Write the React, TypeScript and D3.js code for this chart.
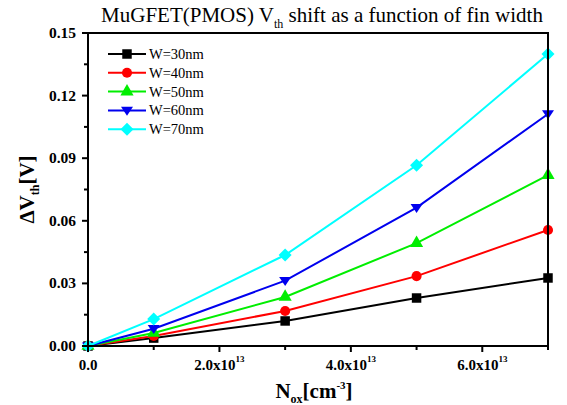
import React from 'react'
import * as d3 from 'd3'

// N_ox values (cm^-3)
const nox = [0, 1e13, 3e13, 5e13, 7e13]

const w30 = [0, 0.0038, 0.012, 0.023, 0.0326]
const w40 = [0, 0.0048, 0.0168, 0.0335, 0.0556]
const w50 = [0, 0.0062, 0.0235, 0.0493, 0.0819]
const w60 = [0, 0.0083, 0.0313, 0.0663, 0.1112]
const w70 = [0, 0.0129, 0.0436, 0.0866, 0.1399]

const seriesNames = ['W=30nm', 'W=40nm', 'W=50nm', 'W=60nm', 'W=70nm']
const seriesColors = ['#000000', '#ff0000', '#00ee00', '#0000ee', '#00ffff']
const seriesShapes = [d3.symbolSquare, d3.symbolCircle, d3.symbolTriangle, 'down', 'diamond']

const xTicks = [0, 2e13, 4e13, 6e13]
const yTicks = [0, 0.03, 0.06, 0.09, 0.12, 0.15]

const W = 567
const H = 405
const margin = { top: 33, right: 19, bottom: 59, left: 88 }

function Marker({ shape, color, x, y }: { shape: any; color: string; x: number; y: number }) {
  if (shape === 'down') {
    const s = 6
    return <path d={`M${x - s},${y - s * 0.6}L${x + s},${y - s * 0.6}L${x},${y + s * 0.9}Z`} fill={color} />
  }
  if (shape === 'diamond') {
    const s = 6.5
    return <path d={`M${x},${y - s}L${x + s},${y}L${x},${y + s}L${x - s},${y}Z`} fill={color} />
  }
  const size = shape === d3.symbolSquare ? 90 : shape === d3.symbolCircle ? 80 : 75
  return <path d={d3.symbol(shape, size)() || ''} transform={`translate(${x},${y})`} fill={color} />
}

export default function App() {
  const data = [w30, w40, w50, w60, w70]
  const x = d3.scaleLinear().domain([0, 7e13]).range([margin.left, W - margin.right])
  const y = d3.scaleLinear().domain([0, 0.15]).range([H - margin.bottom, margin.top])
  const line = d3.line<number>().x((_, i) => x(nox[i])).y(d => y(d))

  const x0 = x.range()[0], x1 = x.range()[1]
  const y0 = y.range()[0], y1 = y.range()[1]
  const xMinor = d3.range(1e13, 7.01e13, 2e13)
  const yMinor = d3.range(0.015, 0.15, 0.03)

  return (
    <svg width={W} height={H} style={{ position: 'absolute', left: 0, top: 0, background: '#fff', fontFamily: "'Liberation Serif', 'DejaVu Serif', serif" }}>
      <rect width={W} height={H} fill="#fff" />
      <text x={322} y={22} textAnchor="middle" fontSize={21}>
        MuGFET(PMOS) V<tspan fontSize={12} dy={6}>th</tspan>
        <tspan dy={-6}> shift as a function of fin width</tspan>
      </text>

      {data.map((s, i) => (
        <g key={i}>
          <path d={line(s) || ''} fill="none" stroke={seriesColors[i]} strokeWidth={2} />
          {s.map((v, j) => (
            <Marker key={j} shape={seriesShapes[i]} color={seriesColors[i]} x={x(nox[j])} y={y(v)} />
          ))}
        </g>
      ))}

      <rect x={x0} y={y1} width={x1 - x0} height={y0 - y1} fill="none" stroke="#000" strokeWidth={2} />

      {xTicks.map(t => (
        <g key={t}>
          <line x1={x(t)} x2={x(t)} y1={y0} y2={y0 + 6} stroke="#000" strokeWidth={2} />
          <text x={x(t)} y={y0 + 24} textAnchor="middle" fontSize={15} fontWeight="bold">
            {t === 0 ? '0.0' : (t / 1e13).toFixed(1) + 'x10'}
            {t !== 0 && <tspan fontSize={9} dy={-8}>13</tspan>}
          </text>
        </g>
      ))}
      {xMinor.map(t => (
        <line key={t} x1={x(t)} x2={x(t)} y1={y0} y2={y0 + 4} stroke="#000" strokeWidth={2} />
      ))}
      {yTicks.map(t => (
        <g key={t}>
          <line x1={x0 - 6} x2={x0} y1={y(t)} y2={y(t)} stroke="#000" strokeWidth={2} />
          <text x={x0 - 12} y={y(t) + 5} textAnchor="end" fontSize={15.5} fontWeight="bold">
            {t.toFixed(2)}
          </text>
        </g>
      ))}
      {yMinor.map(t => (
        <line key={t} x1={x0 - 4} x2={x0} y1={y(t)} y2={y(t)} stroke="#000" strokeWidth={2} />
      ))}

      <text x={314} y={398} textAnchor="middle" fontSize={21} fontWeight="bold">
        N<tspan fontSize={12} dy={5}>ox</tspan>
        <tspan dy={-5}>[cm</tspan>
        <tspan fontSize={11} dy={-9}>-3</tspan>
        <tspan dy={9}>]</tspan>
      </text>

      <text transform={`translate(34,${(y0 + y1) / 2}) rotate(-90)`} textAnchor="middle" fontSize={21} fontWeight="bold">
        ΔV<tspan fontSize={12} dy={5}>th</tspan>
        <tspan dy={-5}>[V]</tspan>
      </text>

      {seriesNames.map((n, i) => {
        const ly = 54 + i * 18.8
        return (
          <g key={n}>
            <line x1={108} x2={146} y1={ly} y2={ly} stroke={seriesColors[i]} strokeWidth={2} />
            <Marker shape={seriesShapes[i]} color={seriesColors[i]} x={127} y={ly} />
            <text x={149} y={ly + 5} fontSize={14.5}>{n}</text>
          </g>
        )
      })}
    </svg>
  )
}
